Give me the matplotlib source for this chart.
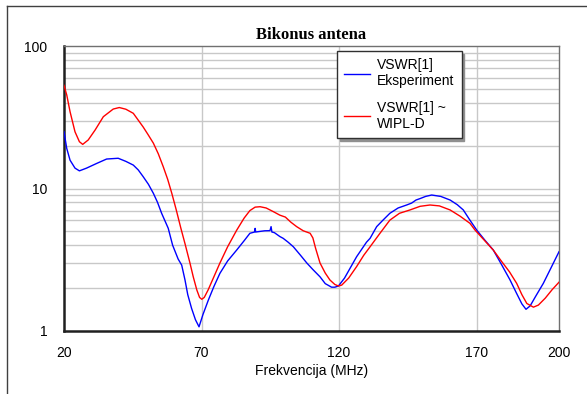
import numpy as np
import matplotlib
matplotlib.use("Agg")
import matplotlib.pyplot as plt
from matplotlib.lines import Line2D
from matplotlib.ticker import FixedLocator, NullFormatter

# WIPL-D simulation (red)
f_sim = [20, 21, 22.2, 24, 25.6, 26.8, 28.8, 31.3, 34.3, 37.9, 40.1, 42.5, 45.2, 48.8,
         50.5, 52.5, 54.3, 56.1, 57.7, 59.2, 60.8, 62.5, 64, 65.8, 67, 68.3, 69.3,
         70.1, 71, 72.4, 74.5, 76.7, 79.5, 82.8, 85.5, 87.6, 89.5, 91.3, 93.5, 96,
         98.5, 100.5, 102.5, 104.6, 107, 109.5, 110.5, 111.5, 113.1, 115, 116.7,
         118.5, 119.8, 121, 123.5, 126.4, 129, 131.3, 134.9, 138.5, 142, 145.8,
         149.5, 153.1, 156.5, 160.4, 164, 167.6, 169.5, 173, 176.1, 179, 182, 184.6,
         186.5, 188.3, 190.7, 192.5, 195, 197.5, 200]
v_sim = [53, 45.3, 34.6, 25, 21.3, 20.4, 21.9, 25.7, 31.9, 36.1, 37, 36, 33.7, 27,
         24, 20.8, 17.5, 14.2, 11.6, 9.25, 7.1, 5.26, 4.1, 3.0, 2.4, 1.94, 1.72,
         1.67, 1.72, 1.94, 2.4, 3.0, 3.9, 5.1, 6.2, 7.0, 7.4, 7.45, 7.3, 6.9,
         6.5, 6.3, 5.8, 5.4, 5.05, 4.85, 4.5, 3.8, 3.0, 2.55, 2.28,
         2.12, 2.07, 2.1, 2.35, 2.83, 3.4, 3.9, 4.85, 6.0, 6.7, 7.07,
         7.5, 7.66, 7.55, 7.07, 6.4, 5.7, 5.1, 4.3, 3.7, 3.1, 2.6, 2.16,
         1.8, 1.56, 1.47, 1.52, 1.7, 1.95, 2.2]

# measurement (blue)
f_exp = [20, 21, 22.2, 24, 25.6, 28.2, 31.9, 35.5, 39.7, 42.5, 45.2, 47, 48.8, 50.7,
         52.5, 54, 55.5, 57.9, 59.5, 61.5, 62.8, 64, 65, 66.4, 67.8, 69.1, 70.5,
         72.5, 74.5, 76.7, 79.5, 82.8, 85.5, 87.6, 89.3, 89.5, 89.7, 91.3, 93, 94.9,
         95.3, 95.6, 96.5, 98.5, 99.7, 101.5, 103.4, 106, 108.3, 110.5, 113.1,
         115, 117.3, 118.5, 119.8, 122, 124, 126.4, 130, 131.3, 133.7, 136, 138.5,
         141.5, 144.6, 146.4, 148, 149.5, 151.5, 153.7, 157, 160.4, 163, 165.2,
         167.6, 170.1, 173, 176.1, 179, 182.2, 184.5, 186.5, 188, 189.5, 191.5,
         194.3, 197, 200]
v_exp = [25, 19.1, 15.8, 13.9, 13.3, 13.9, 15.0, 16.1, 16.3, 15.5, 14.6, 13.5, 12.1, 10.7,
         9.25, 8.0, 6.7, 5.26, 4.0, 3.2, 2.9, 2.28, 1.8, 1.44, 1.2, 1.07, 1.3,
         1.65, 2.05, 2.54, 3.1, 3.7, 4.3, 4.85, 4.95, 5.25, 4.95, 5.0, 5.05, 5.06,
         5.4, 4.95, 4.9, 4.6, 4.47, 4.2, 3.9, 3.4, 3.0, 2.7, 2.4,
         2.15, 2.03, 2.03, 2.07, 2.35, 2.75, 3.32, 4.2, 4.47, 5.4, 6.0, 6.7,
         7.3, 7.66, 7.9, 8.3, 8.5, 8.8, 9.0, 8.8, 8.3, 7.7, 7.07,
         6.0, 5.1, 4.35, 3.7, 2.95, 2.28, 1.85, 1.55, 1.42, 1.5, 1.75,
         2.16, 2.75, 3.6]

xticks = [20, 70, 120, 170, 200]
yticks = [1, 10, 100]
yticklabels = ["1", "10", "100"]

plt.rcParams['font.family'] = ['Liberation Sans', 'DejaVu Sans']

fig = plt.figure(figsize=(5.87, 3.94), dpi=100)
ax = fig.add_axes([64/587, 1-331/394, 495/587, 285/394])

ax.plot(f_exp, v_exp, color="#0000ff", lw=1, label="VSWR[1]\nEksperiment", zorder=3)
ax.plot(f_sim, v_sim, color="#ff0000", lw=1, label="VSWR[1] ~\nWIPL-D", zorder=3)

ax.set_yscale("log")
ax.set_xlim(20, 200)
ax.set_ylim(1, 100)
ax.set_xticks(xticks)
ax.set_xticklabels([str(t) for t in xticks], fontsize=10)
ax.set_yticks(yticks)
ax.set_yticklabels(yticklabels, fontsize=10)
minors = [m * d for d in (1, 10) for m in range(2, 10)]
ax.yaxis.set_minor_locator(FixedLocator(minors))
ax.yaxis.set_minor_formatter(NullFormatter())
ax.tick_params(axis="both", which="both", length=0)
ax.tick_params(axis="x", pad=11)
ax.tick_params(axis="y", pad=12)

for x in [70, 120, 170]:
    ax.axvline(x, color="#c8c8c8", lw=1, zorder=1)
for y in minors:
    ax.axhline(y, color="#c8c8c8", lw=1, zorder=1)
ax.axhline(10, color="#c8c8c8", lw=1, zorder=1)

for s in ["left", "bottom"]:
    ax.spines[s].set_linewidth(1.8)
    ax.spines[s].set_color("#202020")
for s in ["top", "right"]:
    ax.spines[s].set_linewidth(1)
    ax.spines[s].set_color("#707070")

ax.set_title("Bikonus antena", fontfamily="Liberation Serif", fontweight="bold",
             fontsize=12, pad=5)
ax.set_xlabel("Frekvencija (MHz)", fontsize=10, labelpad=3)

leg = ax.legend(loc="upper left", bbox_to_anchor=(337/587, 1-51/394),
                bbox_transform=fig.transFigure, borderaxespad=0, fontsize=10,
                fancybox=False, shadow={"color": "#909090", "alpha": 1},
                framealpha=1, edgecolor="#303030", handlelength=1.9,
                handletextpad=0.5, labelspacing=0.9, borderpad=0.5)
leg.get_frame().set_linewidth(1)

# outer frame of the figure
fig.add_artist(Line2D([7/587, 1], [1-6/394, 1-6/394], color="#404040", lw=1))
fig.add_artist(Line2D([7/587, 7/587], [0, 1-6/394], color="#404040", lw=1))

fig.savefig("out.png", dpi=100)
